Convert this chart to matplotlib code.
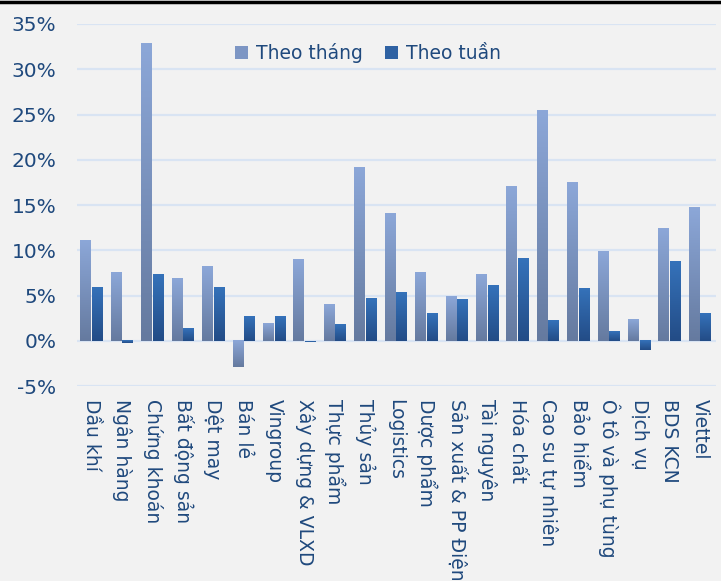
import matplotlib
matplotlib.use('Agg')
import matplotlib.pyplot as plt
import numpy as np
from matplotlib.colors import LinearSegmentedColormap
from matplotlib.lines import Line2D
from matplotlib.patches import Patch

sectors = ['Dầu khí', 'Ngân hàng', 'Chứng khoán', 'Bất động sản', 'Dệt may', 'Bán lẻ',
           'Vingroup', 'Xây dựng & VLXD', 'Thực phẩm', 'Thủy sản', 'Logistics', 'Dược phẩm',
           'Sản xuất & PP Điện', 'Tài nguyên', 'Hóa chất', 'Cao su tự nhiên', 'Bảo hiểm',
           'Ô tô và phụ tùng', 'Dịch vụ', 'BDS KCN', 'Viettel']
theo_thang = [11.1, 7.55, 32.9, 6.9, 8.2, -2.9, 1.9, 9.0, 4.0, 19.2, 14.1, 7.6,
              4.9, 7.4, 17.1, 25.5, 17.5, 9.9, 2.35, 12.4, 14.7]
theo_tuan = [5.9, -0.26, 7.3, 1.36, 5.9, 2.7, 2.7, -0.1, 1.8, 4.7, 5.35, 3.0,
             4.6, 6.1, 9.1, 2.25, 5.8, 1.1, -1.05, 8.8, 3.0]

text_color = '#1f497d'
bg = '#f2f2f2'
month_top, month_bot = '#8ca7d8', '#657a9f'
week_top, week_bot = '#3572ba', '#234c86'

plt.rcParams['font.family'] = ['DejaVu Sans']

fig = plt.figure(figsize=(7.21, 5.81), dpi=100, facecolor=bg)
ax = fig.add_axes([0.107, 0.3356, 0.886, 0.6231], facecolor=bg)

x = np.arange(len(sectors))
w = 0.36
bars_m = ax.bar(x - w / 2 - 0.01, theo_thang, w, color=month_top, zorder=3)
bars_w = ax.bar(x + w / 2 + 0.01, theo_tuan, w, color=week_top, zorder=3)

# vertical gradient fill for each bar
grad = np.linspace(1, 0, 100).reshape(-1, 1)
for bars, top, bot in [(bars_m, month_top, month_bot), (bars_w, week_top, week_bot)]:
    cmap = LinearSegmentedColormap.from_list('g', [bot, top])
    for b in bars:
        x0, y0, bw, bh = b.get_x(), b.get_y(), b.get_width(), b.get_height()
        b.set_visible(False)
        ax.imshow(grad, extent=[x0, x0 + bw, min(y0, y0 + bh), max(y0, y0 + bh)],
                  aspect='auto', cmap=cmap, vmin=0, vmax=1, zorder=3, origin='upper')

ax.set_xlim(-0.48, 20.52)
ax.set_ylim(-5, 35)
ax.set_yticks(np.arange(-5, 36, 5))
ax.set_yticklabels([f'{v}%' for v in range(-5, 36, 5)])
ax.yaxis.grid(True, color='#d9e4f3', linewidth=1.6, zorder=1)
ax.set_axisbelow(True)
for s in ax.spines.values():
    s.set_visible(False)
ax.tick_params(axis='y', length=0, pad=15, labelsize=14.5, labelcolor=text_color)
ax.tick_params(axis='x', length=0, pad=9, labelsize=13.5, labelcolor=text_color)
ax.set_xticks(x)
ax.set_xticklabels(sectors, rotation=-90, ha='center', va='top')

handles = [Patch(facecolor='#7d96c4', edgecolor='none'), Patch(facecolor='#2f62a3', edgecolor='none')]
leg = ax.legend(handles, ['Theo tháng', 'Theo tuần'], loc='upper center', ncol=2,
                bbox_to_anchor=(0.455, 0.995), frameon=False, fontsize=13.5,
                handlelength=0.7, handleheight=0.7, handletextpad=0.4, columnspacing=1.2)
for t in leg.get_texts():
    t.set_color(text_color)

fig.add_artist(Line2D([0, 1], [0.997, 0.997], color='black', linewidth=2.5, transform=fig.transFigure))

fig.savefig('out.png', dpi=100, facecolor=bg)
